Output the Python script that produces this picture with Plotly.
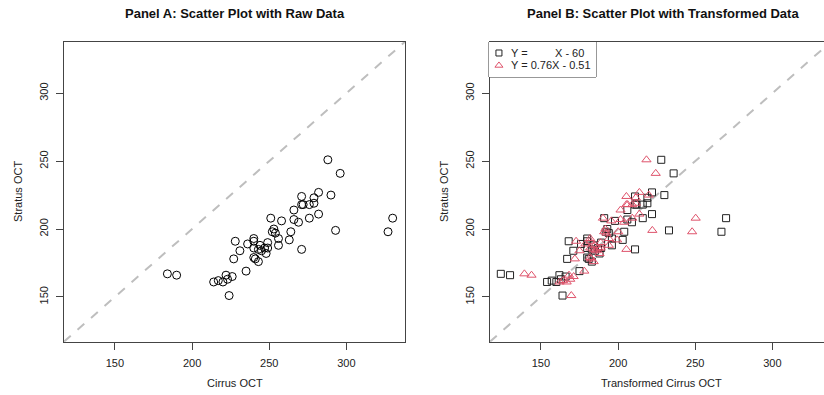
import plotly.graph_objects as go

# Raw data (Panel A)
cirrus = [184, 190, 214, 217, 220, 222, 223, 226, 224, 227, 228, 231, 235, 236, 240, 240, 240, 240,
          241, 243, 243, 244, 245, 247, 248, 249, 249, 251, 252, 253, 254, 256, 256, 258, 263, 264,
          266, 266, 269, 271, 271, 271, 272, 276, 276, 279, 279, 282, 282, 288, 290, 293, 296, 327, 330]
stratus = [167, 166, 161, 162, 161, 166, 163, 165, 151, 178, 191, 184, 169, 189, 193, 191, 186, 179,
           178, 176, 185, 188, 184, 186, 182, 190, 186, 208, 198, 200, 197, 193, 188, 206, 192, 198,
           214, 207, 205, 185, 224, 218, 218, 208, 218, 219, 223, 227, 211, 251, 225, 199, 241, 198, 208]

# Transformed Cirrus values (Panel B)
cirrus_minus60 = [124, 130, 154, 157, 160, 162, 163, 166, 164, 167, 168, 171, 175, 176, 180, 180, 180, 180,
                  181, 183, 183, 184, 185, 187, 188, 189, 189, 191, 192, 193, 194, 196, 196, 198, 203, 204,
                  206, 206, 209, 211, 211, 211, 212, 216, 216, 219, 219, 222, 222, 228, 230, 233, 236, 267, 270]
cirrus_linear = [139.3, 143.9, 162.1, 164.4, 166.7, 168.2, 169.0, 171.2, 169.7, 172.0, 172.8, 175.0, 178.1,
                 178.8, 181.9, 181.9, 181.9, 181.9, 182.6, 184.2, 184.2, 184.9, 185.7, 187.2, 188.0, 188.7,
                 188.7, 190.2, 191.0, 191.8, 192.5, 194.0, 194.0, 195.6, 199.4, 200.1, 201.6, 201.6, 203.9,
                 205.4, 205.4, 205.4, 206.2, 209.2, 209.2, 211.5, 211.5, 213.8, 213.8, 218.4, 219.9, 222.2,
                 224.4, 248.0, 250.3]

tick_vals = [150, 200, 250, 300]
tick_text = ["150", "200", "250", "300"]
legend_labels = ["Y =", "X - 60", "Y = 0.76X - 0.51"]

W, H = 824, 395
lo, hi = 117, 338
xa_dom = [64 / W, 405 / W]
xb_dom = [490 / W, 1.0]
y_dom = [1 - 341.7 / H, 1 - 41.7 / H]
ppu = (405 - 64) / (hi - lo)
xb_hi = lo + (824 - 490) / ppu
leg_x = [489 / W, 596 / W]
leg_y = [1 - 77 / H, 1 - 42 / H]

FONT = "Liberation Sans, Arial, Helvetica, sans-serif"
RED = "#DF536B"
TXT = "#222"

fig = go.Figure()
fig.add_trace(go.Scatter(x=cirrus, y=stratus, mode="markers", xaxis="x", yaxis="y",
                         marker=dict(symbol="circle-open", size=8, color="black", line=dict(width=1)),
                         showlegend=False))
fig.add_trace(go.Scatter(x=cirrus_minus60, y=stratus, mode="markers", xaxis="x2", yaxis="y2",
                         marker=dict(symbol="square-open", size=7, color="#222", line=dict(width=1)),
                         showlegend=False))
fig.add_trace(go.Scatter(x=cirrus_linear, y=stratus, mode="markers", xaxis="x2", yaxis="y2",
                         marker=dict(symbol="triangle-up-open", size=8, color=RED, line=dict(width=1)),
                         showlegend=False))
# legend keys (drawn on an overlay axis covering the legend box)
fig.add_trace(go.Scatter(x=[0.093], y=[0.686], mode="markers", xaxis="x3", yaxis="y3",
                         marker=dict(symbol="square-open", size=6, color="#222", line=dict(width=1)),
                         showlegend=False, hoverinfo="skip"))
fig.add_trace(go.Scatter(x=[0.093], y=[0.33], mode="markers", xaxis="x3", yaxis="y3",
                         marker=dict(symbol="triangle-up-open", size=7, color=RED, line=dict(width=1)),
                         showlegend=False, hoverinfo="skip"))

axis_common = dict(tickvals=tick_vals, ticktext=tick_text, ticks="outside", ticklen=7,
                   tickcolor="#444", showgrid=False, zeroline=False, showline=True,
                   linecolor="#444", linewidth=1, ticklabelstandoff=4,
                   tickfont=dict(family=FONT, size=11, color=TXT))
hidden = dict(visible=False, range=[0, 1], showgrid=False, zeroline=False, fixedrange=True)

lab_font = dict(family=FONT, size=11, color=TXT)
title_font = dict(family=FONT, size=13, color="#111")
fig.update_layout(
    width=W, height=H, margin=dict(l=0, r=0, t=0, b=0),
    plot_bgcolor="white", paper_bgcolor="white",
    xaxis=dict(domain=xa_dom, range=[lo, hi], anchor="y", mirror=True, **axis_common),
    yaxis=dict(domain=y_dom, range=[lo, hi], anchor="x", mirror=True, tickangle=-90, **axis_common),
    xaxis2=dict(domain=xb_dom, range=[lo, xb_hi], anchor="y2", mirror=True, **axis_common),
    yaxis2=dict(domain=y_dom, range=[lo, hi], anchor="x2", mirror=False, tickangle=-90, **axis_common),
    xaxis3=dict(domain=leg_x, anchor="y3", **hidden),
    yaxis3=dict(domain=leg_y, anchor="x3", **hidden),
    showlegend=False,
    shapes=[
        dict(type="line", xref="x", yref="y", x0=lo, y0=lo, x1=hi, y1=hi,
             line=dict(color="#BEBEBE", width=2, dash="dash"), layer="below"),
        dict(type="line", xref="x2", yref="y2", x0=lo, y0=lo, x1=xb_hi, y1=xb_hi,
             line=dict(color="#BEBEBE", width=2, dash="dash"), layer="below"),
        dict(type="rect", xref="x3 domain", yref="y3 domain", x0=0, y0=0, x1=1, y1=1,
             line=dict(color="#333", width=1), fillcolor="white", layer="below"),
    ],
    annotations=[
        dict(text="<b>Panel A: Scatter Plot with Raw Data</b>", x=235 / W, y=1 - 14 / H,
             xref="paper", yref="paper", xanchor="center", yanchor="middle", showarrow=False,
             font=title_font),
        dict(text="<b>Panel B: Scatter Plot with Transformed Data</b>", x=663 / W, y=1 - 14 / H,
             xref="paper", yref="paper", xanchor="center", yanchor="middle", showarrow=False,
             font=title_font),
        dict(text="Cirrus OCT", x=234.5 / W, y=1 - 383 / H, xref="paper", yref="paper",
             xanchor="center", yanchor="middle", showarrow=False, font=lab_font),
        dict(text="Transformed Cirrus OCT", x=661 / W, y=1 - 383 / H, xref="paper", yref="paper",
             xanchor="center", yanchor="middle", showarrow=False, font=lab_font),
        dict(text="Stratus OCT", x=18 / W, y=1 - 192 / H, xref="paper", yref="paper", textangle=-90,
             xanchor="center", yanchor="middle", showarrow=False, font=lab_font),
        dict(text="Stratus OCT", x=444 / W, y=1 - 192 / H, xref="paper", yref="paper", textangle=-90,
             xanchor="center", yanchor="middle", showarrow=False, font=lab_font),
        dict(text=legend_labels[0], x=0.187, y=0.686, xref="x3", yref="y3", xanchor="left",
             yanchor="middle", showarrow=False, font=lab_font),
        dict(text=legend_labels[1], x=0.598, y=0.686, xref="x3", yref="y3", xanchor="left",
             yanchor="middle", showarrow=False, font=lab_font),
        dict(text=legend_labels[2], x=0.187, y=0.33, xref="x3", yref="y3", xanchor="left",
             yanchor="middle", showarrow=False, font=lab_font),
    ],
)

fig.write_html("out.html")
